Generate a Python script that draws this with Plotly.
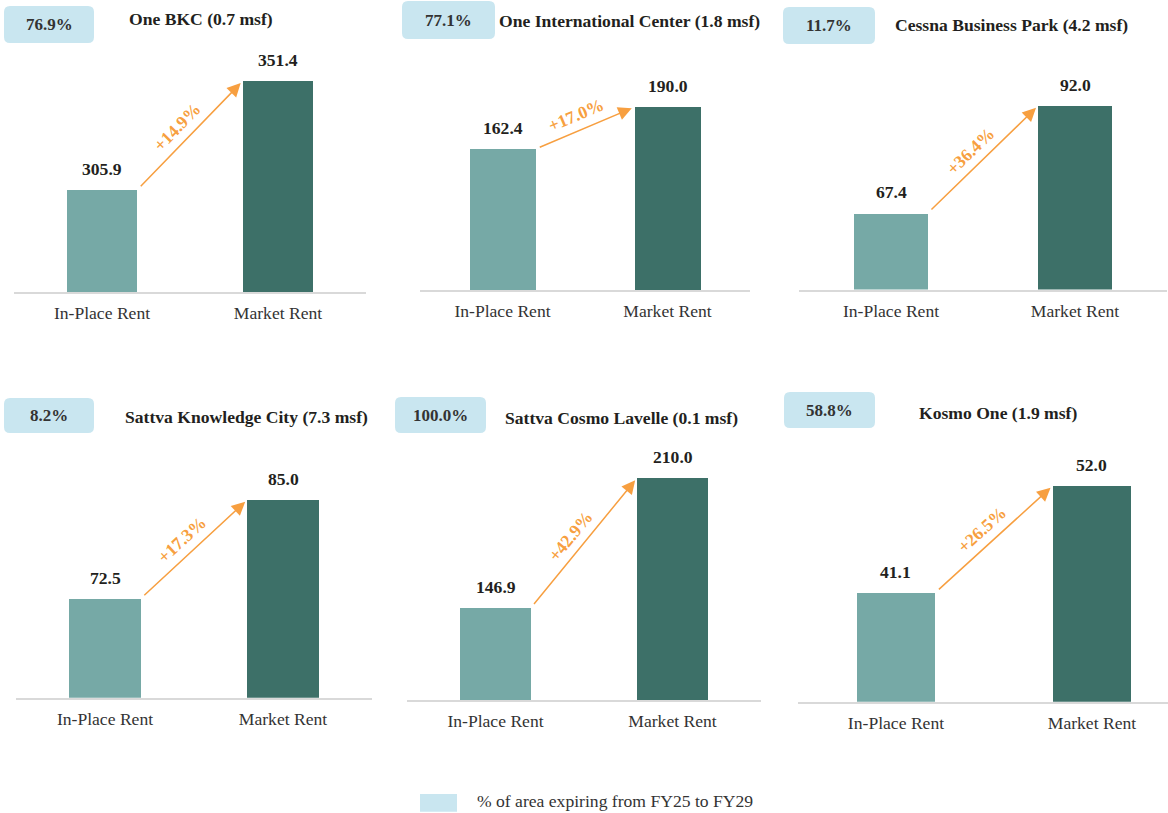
import math
import plotly.graph_objects as go

# ---------------- data ----------------
categories = ["In-Place Rent", "Market Rent"]
properties = [
    "One BKC (0.7 msf)",
    "One International Center (1.8 msf)",
    "Cessna Business Park (4.2 msf)",
    "Sattva Knowledge City (7.3 msf)",
    "Sattva Cosmo Lavelle (0.1 msf)",
    "Kosmo One (1.9 msf)",
]
in_place_rent = [305.9, 162.4, 67.4, 72.5, 146.9, 41.1]
market_rent = [351.4, 190.0, 92.0, 85.0, 210.0, 52.0]
rent_uplift = ["+14.9%", "+17.0%", "+36.4%", "+17.3%", "+42.9%", "+26.5%"]
area_expiring = ["76.9%", "77.1%", "11.7%", "8.2%", "100.0%", "58.8%"]
legend_label = "% of area expiring from FY25 to FY29"

# ---------------- layout (pixels) ----------------
W, H = 1168, 813
PANEL_X = [(14, 366), (420, 750), (799, 1167), (16, 372), (407, 761), (798, 1168)]
X_RANGE = [(-0.5, 1.5)] * 5 + [(-0.5, 1.388)]
BASELINE = [292, 290, 289.5, 697.7, 700, 701.7]
PLOT_H = 230
Y_RANGE = [(263.3, 359.3), (69.8, 220.9), (49.9, 102.6),
           (60.0, 89.04), (102.2, 213.85), (30.0, 53.43)]
BOX = [(4, 94, 6, 43), (402, 495, 1, 39), (783, 875, 7, 44),
       (4, 94, 398, 433), (395, 486, 397, 433), (784, 875, 392, 428)]
TITLE_POS = [(201, 19), (629, 21), (1011, 25), (246, 417), (621.5, 418), (997.5, 413)]

FONT = "Liberation Serif"
FS = 17.6
C_LIGHT = "#76A9A6"
C_DARK = "#3D7068"
C_BOX = "#C9E6F0"
C_ORANGE = "#F79F40"
C_TEXT = "#231F20"
C_TICK = "#333333"
BAR_W = 0.4


def px(x):
    return x / W


def py(y):
    return 1 - y / H


def rounded_path(x0, x1, y0, y1, r=6):
    X0, X1 = px(x0), px(x1)
    Y0, Y1 = py(y0), py(y1)  # Y0 top (larger), Y1 bottom
    rx, ry = r / W, r / H
    return (f"M{X0+rx},{Y0} L{X1-rx},{Y0} Q{X1},{Y0} {X1},{Y0-ry} "
            f"L{X1},{Y1+ry} Q{X1},{Y1} {X1-rx},{Y1} "
            f"L{X0+rx},{Y1} Q{X0},{Y1} {X0},{Y1+ry} "
            f"L{X0},{Y0-ry} Q{X0},{Y0} {X0+rx},{Y0} Z")


fig = go.Figure()
annotations = []
shapes = []

for i in range(6):
    n = "" if i == 0 else str(i + 1)
    xa, ya = "x" + n, "y" + n
    v1, v2 = in_place_rent[i], market_rent[i]

    fig.add_trace(go.Bar(
        x=[0, 1], y=[v1, v2], width=BAR_W,
        marker=dict(color=[C_LIGHT, C_DARK], line=dict(width=0)),
        xaxis=xa, yaxis=ya, showlegend=False, hoverinfo="skip",
    ))

    x0, x1 = PANEL_X[i]
    yb = BASELINE[i]
    fig.update_layout(**{
        "xaxis" + n: dict(
            domain=[px(x0), px(x1)], range=list(X_RANGE[i]), anchor=ya,
            tickvals=[0, 1], ticktext=categories, showline=True,
            linecolor="#D9D9D9", linewidth=2, showgrid=False, zeroline=False,
            ticks="", ticklabelstandoff=4,
            tickfont=dict(family=FONT, size=FS, color=C_TICK),
            fixedrange=True,
        ),
        "yaxis" + n: dict(
            domain=[py(yb), py(yb - PLOT_H)], range=list(Y_RANGE[i]), anchor=xa,
            visible=False, fixedrange=True,
        ),
    })

    # value labels
    for xv, v in ((0, v1), (1, v2)):
        annotations.append(dict(
            x=xv, y=v, xref=xa, yref=ya, text=f"<b>{v:.1f}</b>", showarrow=False,
            yanchor="bottom", yshift=9,
            font=dict(family=FONT, size=FS, color=C_TEXT),
        ))

    # arrow between bar tops
    xt, xh = BAR_W / 2, 1 - BAR_W / 2
    annotations.append(dict(
        x=xh, y=v2, ax=xt, ay=v1, xref=xa, yref=ya, axref=xa, ayref=ya,
        text="", showarrow=True, arrowhead=2, arrowsize=1.8, arrowwidth=1.5,
        arrowcolor=C_ORANGE, standoff=3, startstandoff=3,
    ))

    # uplift label rotated along arrow
    ppx = (x1 - x0) / (X_RANGE[i][1] - X_RANGE[i][0])
    ppy = PLOT_H / (Y_RANGE[i][1] - Y_RANGE[i][0])
    dx = (xh - xt) * ppx
    dy = (v2 - v1) * ppy
    ang = math.atan2(dy, dx)
    perp, back = 15, 3
    annotations.append(dict(
        x=(xt + xh) / 2, y=(v1 + v2) / 2, xref=xa, yref=ya,
        text=f"<b>{rent_uplift[i]}</b>", showarrow=False,
        textangle=-math.degrees(ang),
        xshift=-math.sin(ang) * perp - math.cos(ang) * back,
        yshift=math.cos(ang) * perp - math.sin(ang) * back,
        font=dict(family=FONT, size=FS, color=C_ORANGE),
    ))

    # area-expiring badge
    bx0, bx1, by0, by1 = BOX[i]
    shapes.append(dict(type="path", xref="paper", yref="paper",
                       path=rounded_path(bx0, bx1, by0, by1),
                       fillcolor=C_BOX, line=dict(width=0), layer="below"))
    annotations.append(dict(
        x=px((bx0 + bx1) / 2), y=py((by0 + by1) / 2), xref="paper", yref="paper",
        text=f"<b>{area_expiring[i]}</b>", showarrow=False,
        xanchor="center", yanchor="middle",
        font=dict(family=FONT, size=17, color="#333333"),
    ))

    # property title
    tx, ty = TITLE_POS[i]
    annotations.append(dict(
        x=px(tx), y=py(ty), xref="paper", yref="paper",
        text=f"<b>{properties[i]}</b>", showarrow=False,
        xanchor="center", yanchor="middle",
        font=dict(family=FONT, size=FS, color=C_TEXT),
    ))

# legend
shapes.append(dict(type="rect", xref="paper", yref="paper",
                   x0=px(420), x1=px(457), y0=py(811.7), y1=py(794),
                   fillcolor=C_BOX, line=dict(width=0)))
annotations.append(dict(
    x=px(475), y=py(801), xref="paper", yref="paper", text=legend_label,
    showarrow=False, xanchor="left", yanchor="middle",
    font=dict(family=FONT, size=FS, color=C_TICK),
))

fig.update_layout(
    width=W, height=H, margin=dict(l=0, r=0, t=0, b=0),
    paper_bgcolor="white", plot_bgcolor="white",
    annotations=annotations, shapes=shapes, showlegend=False,
    bargap=0,
)

fig.write_html("out.html", config={"displayModeBar": False},
               post_script="document.body.style.margin='0';")
